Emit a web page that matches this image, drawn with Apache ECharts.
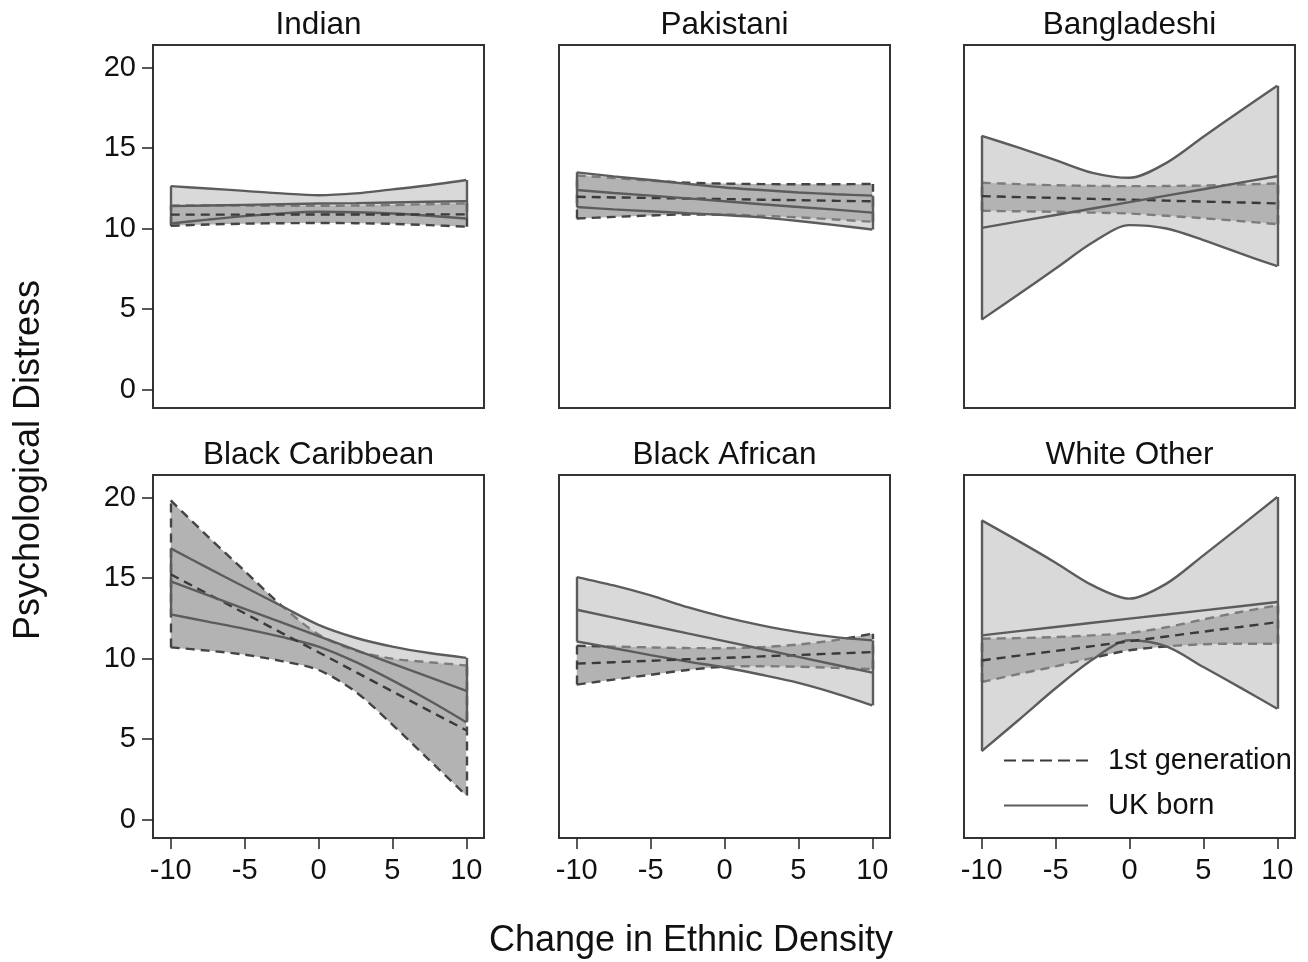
<!DOCTYPE html>
<html>
<head>
<meta charset="utf-8">
<script src="https://cdn.jsdelivr.net/npm/echarts@6/dist/echarts.min.js"></script>
<style>
  html, body { margin: 0; padding: 0; background: #fff; }
  #chart { width: 1308px; height: 962px; }
</style>
</head>
<body>
<div id="chart"></div>
<script>
// shared x positions (change in ethnic density) where the curves were read
const xs = [-10, -7.5, -5, -2.5, 0, 2.5, 5, 7.5, 10];
const xTicks = [-10, -5, 0, 5, 10];
const yTicks = [0, 5, 10, 15, 20];
const panelNames = ['Indian', 'Pakistani', 'Bangladeshi', 'Black Caribbean', 'Black African', 'White Other'];

// Indian
const indianUkHi = [12.64, 12.5, 12.35, 12.19, 12.08, 12.19, 12.44, 12.7, 13.02];
const indianUkMid = [11.40, 11.44, 11.48, 11.52, 11.56, 11.59, 11.63, 11.67, 11.71];
const indianUkLo = [10.32, 10.56, 10.78, 10.95, 11.05, 11.02, 10.94, 10.8, 10.63];
const indianG1Hi = [11.45, 11.44, 11.43, 11.42, 11.42, 11.44, 11.47, 11.52, 11.57];
const indianG1Mid = [10.87, 10.87, 10.87, 10.88, 10.88, 10.88, 10.88, 10.89, 10.89];
const indianG1Lo = [10.18, 10.26, 10.31, 10.34, 10.35, 10.34, 10.3, 10.22, 10.12];

// Pakistani
const pakistaniUkHi = [13.5, 13.25, 13.02, 12.78, 12.56, 12.4, 12.25, 12.14, 12.05];
const pakistaniUkMid = [12.4, 12.22, 12.05, 11.88, 11.7, 11.52, 11.35, 11.18, 11.0];
const pakistaniUkLo = [11.35, 11.2, 11.08, 10.96, 10.85, 10.7, 10.48, 10.22, 9.95];
const pakistaniG1Hi = [13.3, 13.15, 12.98, 12.86, 12.8, 12.77, 12.76, 12.76, 12.78];
const pakistaniG1Mid = [11.98, 11.94, 11.91, 11.87, 11.84, 11.8, 11.77, 11.73, 11.7];
const pakistaniG1Lo = [10.63, 10.73, 10.82, 10.88, 10.88, 10.8, 10.7, 10.57, 10.43];

// Bangladeshi
const bangladeshiUkHi = [15.77, 15.03, 14.26, 13.47, 13.16, 14.09, 15.71, 17.31, 18.88];
const bangladeshiUkMid = [10.05, 10.45, 10.85, 11.25, 11.65, 12.05, 12.45, 12.86, 13.26];
const bangladeshiUkLo = [4.35, 5.93, 7.52, 9.14, 10.22, 10.01, 9.29, 8.46, 7.67];
const bangladeshiG1Hi = [12.85, 12.77, 12.7, 12.66, 12.64, 12.65, 12.68, 12.74, 12.81];
const bangladeshiG1Mid = [12.02, 11.96, 11.91, 11.85, 11.8, 11.74, 11.68, 11.63, 11.57];
const bangladeshiG1Lo = [11.11, 11.08, 11.05, 11.0, 10.94, 10.8, 10.65, 10.47, 10.28];

// Black Caribbean
const caribbeanUkHi = [16.85, 15.64, 14.45, 13.27, 12.1, 11.3, 10.75, 10.35, 10.05];
const caribbeanUkMid = [14.8, 13.95, 13.1, 12.25, 11.4, 10.55, 9.7, 8.85, 8.0];
const caribbeanUkLo = [12.75, 12.3, 11.85, 11.35, 10.75, 9.8, 8.65, 7.4, 6.05];
const caribbeanG1Hi = [19.83, 17.6, 15.45, 13.3, 11.5, 10.5, 10.0, 9.78, 9.58];
const caribbeanG1Mid = [15.24, 14.03, 12.82, 11.6, 10.4, 9.18, 7.97, 6.76, 5.55];
const caribbeanG1Lo = [10.7, 10.5, 10.25, 9.85, 9.3, 7.95, 5.9, 3.7, 1.5];

// Black African
const africanUkHi = [15.07, 14.55, 13.93, 13.2, 12.58, 12.07, 11.65, 11.34, 11.14];
const africanUkMid = [13.04, 12.55, 12.06, 11.57, 11.09, 10.6, 10.11, 9.62, 9.13];
const africanUkLo = [11.07, 10.65, 10.22, 9.82, 9.45, 9.0, 8.5, 7.85, 7.1];
const africanG1Hi = [10.8, 10.75, 10.7, 10.66, 10.65, 10.72, 10.88, 11.15, 11.55];
const africanG1Mid = [9.69, 9.78, 9.87, 9.96, 10.05, 10.14, 10.23, 10.32, 10.41];
const africanG1Lo = [8.39, 8.7, 9.0, 9.3, 9.5, 9.53, 9.5, 9.43, 9.35];

// White Other
const whiteUkHi = [18.59, 17.3, 15.96, 14.55, 13.73, 14.66, 16.42, 18.22, 20.04];
const whiteUkMid = [11.45, 11.71, 11.97, 12.23, 12.49, 12.74, 13.0, 13.26, 13.52];
const whiteUkLo = [4.26, 6.19, 8.16, 9.95, 11.14, 10.76, 9.48, 8.2, 6.89];
const whiteG1Hi = [11.24, 11.28, 11.34, 11.45, 11.6, 11.95, 12.44, 12.9, 13.31];
const whiteG1Mid = [9.89, 10.19, 10.48, 10.78, 11.08, 11.38, 11.68, 11.97, 12.27];
const whiteG1Lo = [8.55, 9.05, 9.52, 10.05, 10.52, 10.76, 10.9, 10.93, 10.93];

const panelData = [
  { uk: [indianUkLo, indianUkMid, indianUkHi], g1: [indianG1Lo, indianG1Mid, indianG1Hi] },
  { uk: [pakistaniUkLo, pakistaniUkMid, pakistaniUkHi], g1: [pakistaniG1Lo, pakistaniG1Mid, pakistaniG1Hi] },
  { uk: [bangladeshiUkLo, bangladeshiUkMid, bangladeshiUkHi], g1: [bangladeshiG1Lo, bangladeshiG1Mid, bangladeshiG1Hi] },
  { uk: [caribbeanUkLo, caribbeanUkMid, caribbeanUkHi], g1: [caribbeanG1Lo, caribbeanG1Mid, caribbeanG1Hi] },
  { uk: [africanUkLo, africanUkMid, africanUkHi], g1: [africanG1Lo, africanG1Mid, africanG1Hi] },
  { uk: [whiteUkLo, whiteUkMid, whiteUkHi], g1: [whiteG1Lo, whiteG1Mid, whiteG1Hi] }
];

const FONT = '"Liberation Sans", Arial, Helvetica, sans-serif';
const colLeft = [153, 559, 964];
const rowTop = [45, 475];
const boxW = 331;
const boxH = 363;
const SMOOTH = 0.3;

const DARK_FILL = '#b3b3b3';
const LIGHT_FILL = 'rgba(179,179,179,0.5)';
const DASH_COLOR = '#444444';
const SOLID_COLOR = '#5c5c5c';
const DASH = [9, 6];

// rows are [y, x] so that stacking happens on the y value (see encode below)
function pts(arr) {
  return xs.map((x, i) => [arr[i], x]);
}
const ENC = { x: 1, y: 0 };

// one confidence band: invisible base + stacked fill, outlines, vertical end edges
function band(idx, key, lo, hi, fill, lineColor, lineType, z) {
  const last = xs.length - 1;
  const common = {
    xAxisIndex: idx, yAxisIndex: idx, encode: ENC, symbol: 'none',
    silent: true, smooth: SMOOTH, animation: false
  };
  return [
    Object.assign({}, common, {
      type: 'line', name: key + 'base', stack: key + idx, z: z,
      data: pts(lo), lineStyle: { opacity: 0, width: 0 }
    }),
    Object.assign({}, common, {
      type: 'line', name: key + 'band', stack: key + idx, z: z,
      data: xs.map((x, i) => [hi[i] - lo[i], x]),
      lineStyle: { opacity: 0, width: 0 },
      areaStyle: { color: fill, opacity: 1 }
    }),
    Object.assign({}, common, {
      type: 'line', name: key + 'hi', z: z + 1, data: pts(hi),
      lineStyle: { color: lineColor, width: 2.4, type: lineType },
      markLine: {
        silent: true, symbol: 'none', animation: false, label: { show: false },
        lineStyle: { color: lineColor, width: 2.4, type: lineType },
        emphasis: { disabled: true },
        data: [
          [{ coord: [xs[0], lo[0]] }, { coord: [xs[0], hi[0]] }],
          [{ coord: [xs[last], lo[last]] }, { coord: [xs[last], hi[last]] }]
        ]
      }
    }),
    Object.assign({}, common, {
      type: 'line', name: key + 'lo', z: z + 1, data: pts(lo),
      lineStyle: { color: lineColor, width: 2.4, type: lineType }
    })
  ];
}

const grids = [], xAxes = [], yAxes = [], series = [], graphics = [];

panelData.forEach((p, i) => {
  const r = Math.floor(i / 3), c = i % 3;
  grids.push({
    left: colLeft[c], top: rowTop[r], width: boxW, height: boxH,
    show: true, borderColor: '#333', borderWidth: 2, backgroundColor: 'transparent'
  });
  xAxes.push({
    gridIndex: i, type: 'value', min: -11.2, max: 11.2, position: 'bottom',
    axisLine: { show: false, onZero: false }, splitLine: { show: false },
    axisTick: { show: r === 1, inside: false, length: 11, customValues: xTicks, lineStyle: { color: '#222', width: 1.5 } },
    axisLabel: { show: r === 1, customValues: xTicks, margin: 18, fontSize: 29, color: '#111', fontFamily: FONT }
  });
  yAxes.push({
    gridIndex: i, type: 'value', min: -1.14, max: 21.41, position: 'left',
    axisLine: { show: false, onZero: false }, splitLine: { show: false },
    axisTick: { show: c === 0, inside: false, length: 11, customValues: yTicks, lineStyle: { color: '#222', width: 1.5 } },
    axisLabel: { show: c === 0, customValues: yTicks, margin: 17, fontSize: 29, color: '#111', fontFamily: FONT }
  });

  // 1st generation band (opaque), then UK born band (semi-transparent) on top
  series.push(...band(i, 'g1', p.g1[0], p.g1[2], DARK_FILL, DASH_COLOR, DASH, 2));
  series.push(...band(i, 'uk', p.uk[0], p.uk[2], LIGHT_FILL, SOLID_COLOR, 'solid', 4));

  series.push({
    type: 'line', name: '1st generation', xAxisIndex: i, yAxisIndex: i, encode: ENC, z: 6,
    symbol: 'none', silent: true, animation: false, data: pts(p.g1[1]),
    lineStyle: { color: '#3a3a3a', width: 2.4, type: DASH }
  });
  series.push({
    type: 'line', name: 'UK born', xAxisIndex: i, yAxisIndex: i, encode: ENC, z: 7,
    symbol: 'none', silent: true, animation: false, data: pts(p.uk[1]),
    lineStyle: { color: SOLID_COLOR, width: 2.4, type: 'solid' }
  });

  graphics.push({
    type: 'text', x: colLeft[c] + boxW / 2, y: rowTop[r] - 20, silent: true,
    style: { text: panelNames[i], font: '31.5px ' + FONT, fill: '#111', align: 'center', verticalAlign: 'middle' }
  });
});

graphics.push({
  type: 'text', x: 29, y: 460, rotation: Math.PI / 2, silent: true,
  style: { text: 'Psychological Distress', font: '36px ' + FONT, fill: '#111', align: 'center', verticalAlign: 'middle' }
});
graphics.push({
  type: 'text', x: 691, y: 941, silent: true,
  style: { text: 'Change in Ethnic Density', font: '36px ' + FONT, fill: '#111', align: 'center', verticalAlign: 'middle' }
});

const chart = echarts.init(document.getElementById('chart'), null, { renderer: 'canvas' });
chart.setOption({
  backgroundColor: '#fff',
  animation: false,
  grid: grids,
  xAxis: xAxes,
  yAxis: yAxes,
  legend: {
    data: [
      { name: '1st generation', lineStyle: { type: [12, 6] } },
      { name: 'UK born' }
    ],
    orient: 'vertical', left: 998, top: 741, z: 20,
    itemWidth: 84, itemHeight: 14, itemGap: 16,
    selectedMode: false,
    itemStyle: { color: 'transparent', borderColor: 'transparent', borderWidth: 0, opacity: 0 },
    textStyle: { fontSize: 29, color: '#111', fontFamily: FONT, padding: [0, 0, 0, 15] }
  },
  series: series,
  graphic: graphics
});
</script>
</body>
</html>
